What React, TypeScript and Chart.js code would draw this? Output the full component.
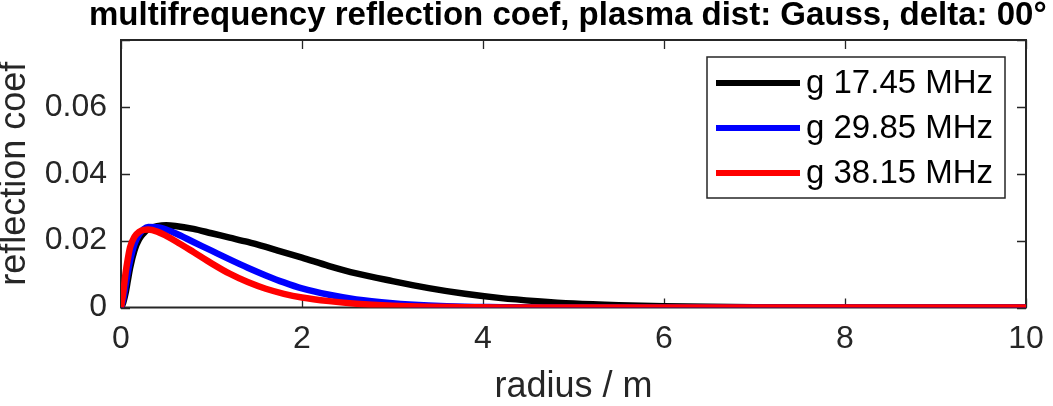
import { useEffect, useRef } from 'react';
import { Chart, registerables } from 'chart.js';

Chart.register(...registerables);

const FONT = '"Liberation Sans", Arial, Helvetica, sans-serif';
const AXIS_COLOR = '#262626';

const titleText = 'multifrequency reflection coef, plasma dist: Gauss, delta: 00°';
const seriesLabels = ['g 17.45 MHz', 'g 29.85 MHz', 'g 38.15 MHz'];
const seriesColors = ['#000000', '#0000ff', '#ff0000'];

// radius / m
const radius = [0, 0.025, 0.05, 0.075, 0.1, 0.15, 0.2, 0.25, 0.3, 0.4, 0.5, 0.6, 0.8, 1.0, 1.2, 1.4, 1.6, 1.8, 2.0, 2.3, 2.6, 3.0, 3.4, 3.8, 4.2, 4.6, 5.0, 5.5, 6.0, 7.0, 8.0, 10.0];

const coef17 = [0, 0.0015, 0.0042, 0.008, 0.0118, 0.0172, 0.0204, 0.0222, 0.0234, 0.0243, 0.0246, 0.0244, 0.0235, 0.0222, 0.0209, 0.0196, 0.0181, 0.0165, 0.0149, 0.0124, 0.0102, 0.0079, 0.0058, 0.0041, 0.0028, 0.0019, 0.0012, 0.0007, 0.0004, 0.0001, 0, 0];
const coef29 = [0, 0.0025, 0.0065, 0.0105, 0.014, 0.019, 0.0218, 0.0234, 0.0241, 0.024, 0.0233, 0.0222, 0.0196, 0.017, 0.0144, 0.0119, 0.0096, 0.0075, 0.0057, 0.0038, 0.0024, 0.0013, 0.0006, 0.0002, 0.0001, 0, 0, 0, 0, 0, 0, 0];
const coef38 = [0, 0.0045, 0.0102, 0.0145, 0.018, 0.0212, 0.0226, 0.0232, 0.0233, 0.0227, 0.0214, 0.0199, 0.0166, 0.0132, 0.0101, 0.0076, 0.0056, 0.0041, 0.003, 0.0019, 0.0011, 0.0005, 0.0002, 0.0001, 0, 0, 0, 0, 0, 0, 0, 0];

const series = [coef17, coef29, coef38];

// box + inward ticks on all four sides (under the lines), then title and boxed legend on top
const matlabFrame = {
  id: 'matlabFrame',
  beforeDatasetsDraw(chart: any) {
    const { ctx, chartArea, scales } = chart;
    const { left, right, top, bottom } = chartArea;
    ctx.save();
    ctx.strokeStyle = AXIS_COLOR;

    ctx.lineWidth = 1.3;
    const tl = 9;
    ctx.beginPath();
    scales.x.ticks.forEach((t: any) => {
      const px = Math.round(scales.x.getPixelForValue(t.value)) + 0.5;
      ctx.moveTo(px, bottom); ctx.lineTo(px, bottom - tl);
      ctx.moveTo(px, top); ctx.lineTo(px, top + tl);
    });
    scales.y.ticks.forEach((t: any) => {
      const py = Math.round(scales.y.getPixelForValue(t.value)) + 0.5;
      ctx.moveTo(left, py); ctx.lineTo(left + tl, py);
      ctx.moveTo(right, py); ctx.lineTo(right - tl, py);
    });
    ctx.stroke();

    ctx.lineWidth = 2;
    ctx.strokeRect(left, top, right - left, bottom - top);
    ctx.restore();
  },
  afterDatasetsDraw(chart: any) {
    const { ctx, chartArea } = chart;
    const { right, top } = chartArea;
    ctx.save();

    // title
    ctx.fillStyle = '#000';
    ctx.font = `bold 33px ${FONT}`;
    ctx.textAlign = 'left';
    ctx.textBaseline = 'alphabetic';
    ctx.fillText(titleText, 89, 25);

    // legend
    const lw = 298, lh = 141;
    const lx = right - 21 - lw, ly = top + 17;
    ctx.fillStyle = '#fff';
    ctx.fillRect(lx, ly, lw, lh);
    ctx.lineWidth = 1.5;
    ctx.strokeStyle = AXIS_COLOR;
    ctx.strokeRect(lx, ly, lw, lh);
    ctx.font = `33px ${FONT}`;
    ctx.textAlign = 'left';
    ctx.textBaseline = 'middle';
    chart.data.datasets.forEach((ds: any, i: number) => {
      const y = ly + 26 + i * 45;
      ctx.strokeStyle = ds.borderColor;
      ctx.lineWidth = 6;
      ctx.beginPath();
      ctx.moveTo(lx + 9, y); ctx.lineTo(lx + 93, y);
      ctx.stroke();
      ctx.fillStyle = '#000';
      ctx.fillText(ds.label, lx + 99, y + 1);
    });
    ctx.restore();
  },
};

export default function App() {
  const chartRef = useRef<HTMLCanvasElement>(null);
  const chartInstance = useRef<Chart | null>(null);

  useEffect(() => {
    document.body.style.margin = '0';
    if (!chartRef.current) return;
    const ctx = chartRef.current.getContext('2d');
    if (!ctx) return;

    if (chartInstance.current) {
      chartInstance.current.destroy();
    }

    chartInstance.current = new Chart(ctx, {
      type: 'line',
      data: {
        datasets: series.map((vals, i) => ({
          label: seriesLabels[i],
          data: radius.map((r, j) => ({ x: r, y: vals[j] })),
          borderColor: seriesColors[i],
          backgroundColor: seriesColors[i],
          borderWidth: 6.5,
          pointRadius: 0,
          fill: false,
          order: series.length - 1 - i, // later series plotted on top, like matlab
          cubicInterpolationMode: 'monotone' as const,
          borderJoinStyle: 'round' as const,
        })),
      },
      options: {
        responsive: false,
        animation: false,
        layout: { padding: { left: 0, top: 40, right: 27, bottom: 0 } },
        plugins: {
          legend: { display: false },
          title: { display: false },
          tooltip: { enabled: false },
        },
        scales: {
          x: {
            type: 'linear',
            min: 0,
            max: 10,
            grid: { display: false },
            border: { display: false },
            ticks: {
              stepSize: 2,
              padding: 4,
              color: AXIS_COLOR,
              font: { family: FONT, size: 32 },
              maxRotation: 0,
            },
            title: {
              display: true,
              text: 'radius / m',
              color: AXIS_COLOR,
              font: { family: FONT, size: 36 },
              padding: { top: 0, bottom: -3 },
            },
            afterFit(scale: any) {
              scale.height = 98.5;
            },
          },
          y: {
            type: 'linear',
            min: 0,
            max: 0.08,
            grid: { display: false },
            border: { display: false },
            ticks: {
              stepSize: 0.02,
              padding: 6,
              color: AXIS_COLOR,
              font: { family: FONT, size: 32 },
              callback: (v: any) => (Math.abs(v - 0.08) < 1e-9 ? '' : String(Number(v.toFixed(2)))),
            },
            title: {
              display: true,
              text: 'reflection coef',
              color: AXIS_COLOR,
              font: { family: FONT, size: 36, lineHeight: 0.86 },
              padding: { top: 0, bottom: 0 },
            },
            afterFit(scale: any) {
              scale.width = 121;
            },
          },
        },
      },
      plugins: [matlabFrame],
    });

    return () => {
      if (chartInstance.current) {
        chartInstance.current.destroy();
        chartInstance.current = null;
      }
    };
  }, []);

  return (
    <div style={{ width: 1053, height: 406, background: '#fff' }}>
      <canvas ref={chartRef} width={1053} height={406}></canvas>
    </div>
  );
}
